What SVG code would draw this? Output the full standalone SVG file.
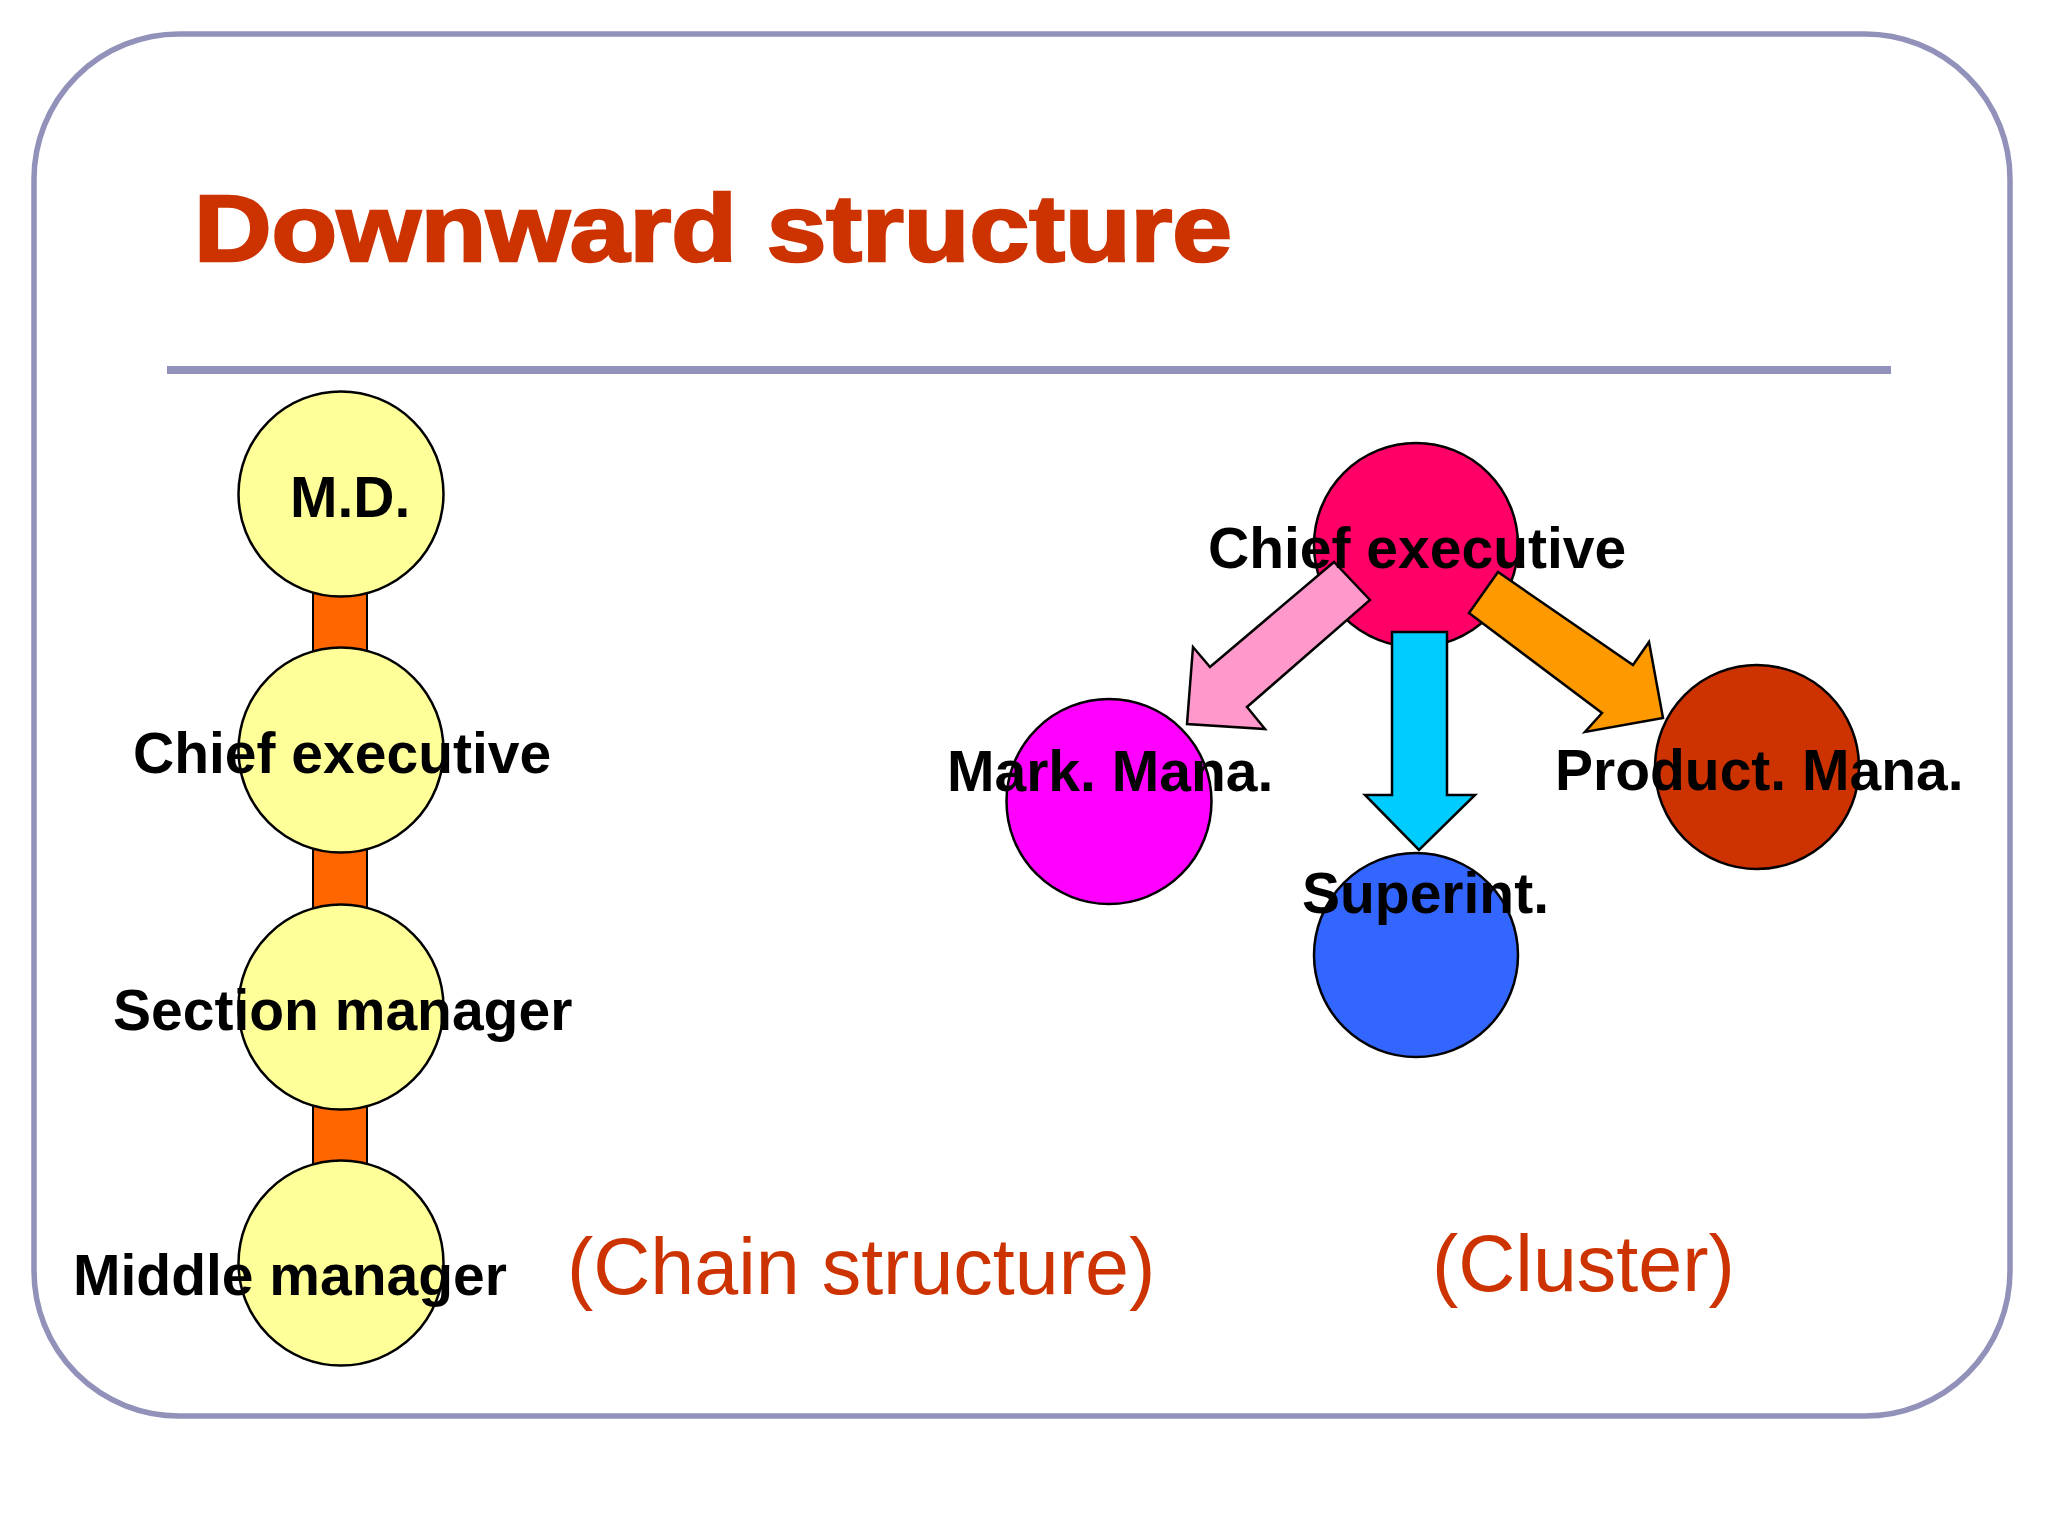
<svg xmlns="http://www.w3.org/2000/svg" width="2048" height="1536" viewBox="0 0 2048 1536">
<style>
.lbl{font-family:"Liberation Sans",Arial,sans-serif;font-weight:bold;font-size:57px;fill:#000}
.cap{font-family:"Liberation Sans",Arial,sans-serif;font-size:79px;fill:#CC3300}
.node{stroke:#000;stroke-width:2.5}
.yel{fill:#FFFF99}
.link{fill:#FF6600;stroke:#000;stroke-width:2}
.arr{stroke:#000;stroke-width:2.5;stroke-linejoin:miter}
</style>
<rect width="2048" height="1536" fill="#FFFFFF"/>
<rect x="34" y="34" width="1976" height="1382" rx="145" ry="145" fill="none" stroke="#9191BA" stroke-width="5.5"/>
<text x="194" y="261" font-family="'Liberation Sans',Arial,sans-serif" font-weight="bold" font-size="94" fill="#CC3300" stroke="#CC3300" stroke-width="2.5" textLength="1038" lengthAdjust="spacingAndGlyphs">Downward structure</text>
<rect x="167" y="366" width="1724" height="8" fill="#9191BA"/>

<g id="connectors">
  <rect class="link" x="313" y="570" width="54" height="110"/>
  <rect class="link" x="313" y="826" width="54" height="110"/>
  <rect class="link" x="313" y="1083" width="54" height="110"/>
</g>

<g id="chain-md"><circle class="node yel" cx="341" cy="494" r="102.5"/><text class="lbl" x="290" y="517">M.D.</text></g>
<g id="chain-ce"><circle class="node yel" cx="341" cy="750" r="102.5"/><text class="lbl" x="133" y="773">Chief executive</text></g>
<g id="chain-sm"><circle class="node yel" cx="341" cy="1007" r="102.5"/><text class="lbl" x="113" y="1030">Section manager</text></g>
<g id="chain-mm"><circle class="node yel" cx="341" cy="1263" r="102.5"/><text class="lbl" x="73" y="1295">Middle manager</text></g>

<g id="cl-ce-shape"><circle class="node" fill="#FF0066" cx="1416" cy="545" r="102"/></g>
<g id="cl-mark-shape"><circle class="node" fill="#FF00FF" cx="1109" cy="801.5" r="102.5"/></g>
<g id="cl-prod-shape"><circle class="node" fill="#CC3300" cx="1757" cy="767" r="102"/></g>
<g id="cl-sup-shape"><circle class="node" fill="#3366FF" cx="1416" cy="955" r="102"/></g>

<g id="cluster-arrows">
  <polygon class="arr" fill="#FF99CC" points="1370,600 1334,562 1210,667 1193,647 1187,724 1265,729 1247,707"/>
  <polygon class="arr" fill="#00CCFF" points="1392,632 1447,632 1447,795 1475,795 1419,850 1365,795 1392,795"/>
  <polygon class="arr" fill="#FF9900" points="1498,572 1469,613 1602,713 1585,732 1663,718 1649,642 1633,665"/>
</g>

<g id="cl-ce"><text class="lbl" x="1208" y="568">Chief executive</text></g>
<g id="cl-mark"><text class="lbl" x="947" y="791">Mark. Mana.</text></g>
<g id="cl-prod"><text class="lbl" x="1555" y="790">Product. Mana.</text></g>
<g id="cl-sup"><text class="lbl" x="1302" y="913">Superint.</text></g>

<text class="cap" x="567" y="1294">(Chain structure)</text>
<text class="cap" x="1432" y="1291">(Cluster)</text>
</svg>
